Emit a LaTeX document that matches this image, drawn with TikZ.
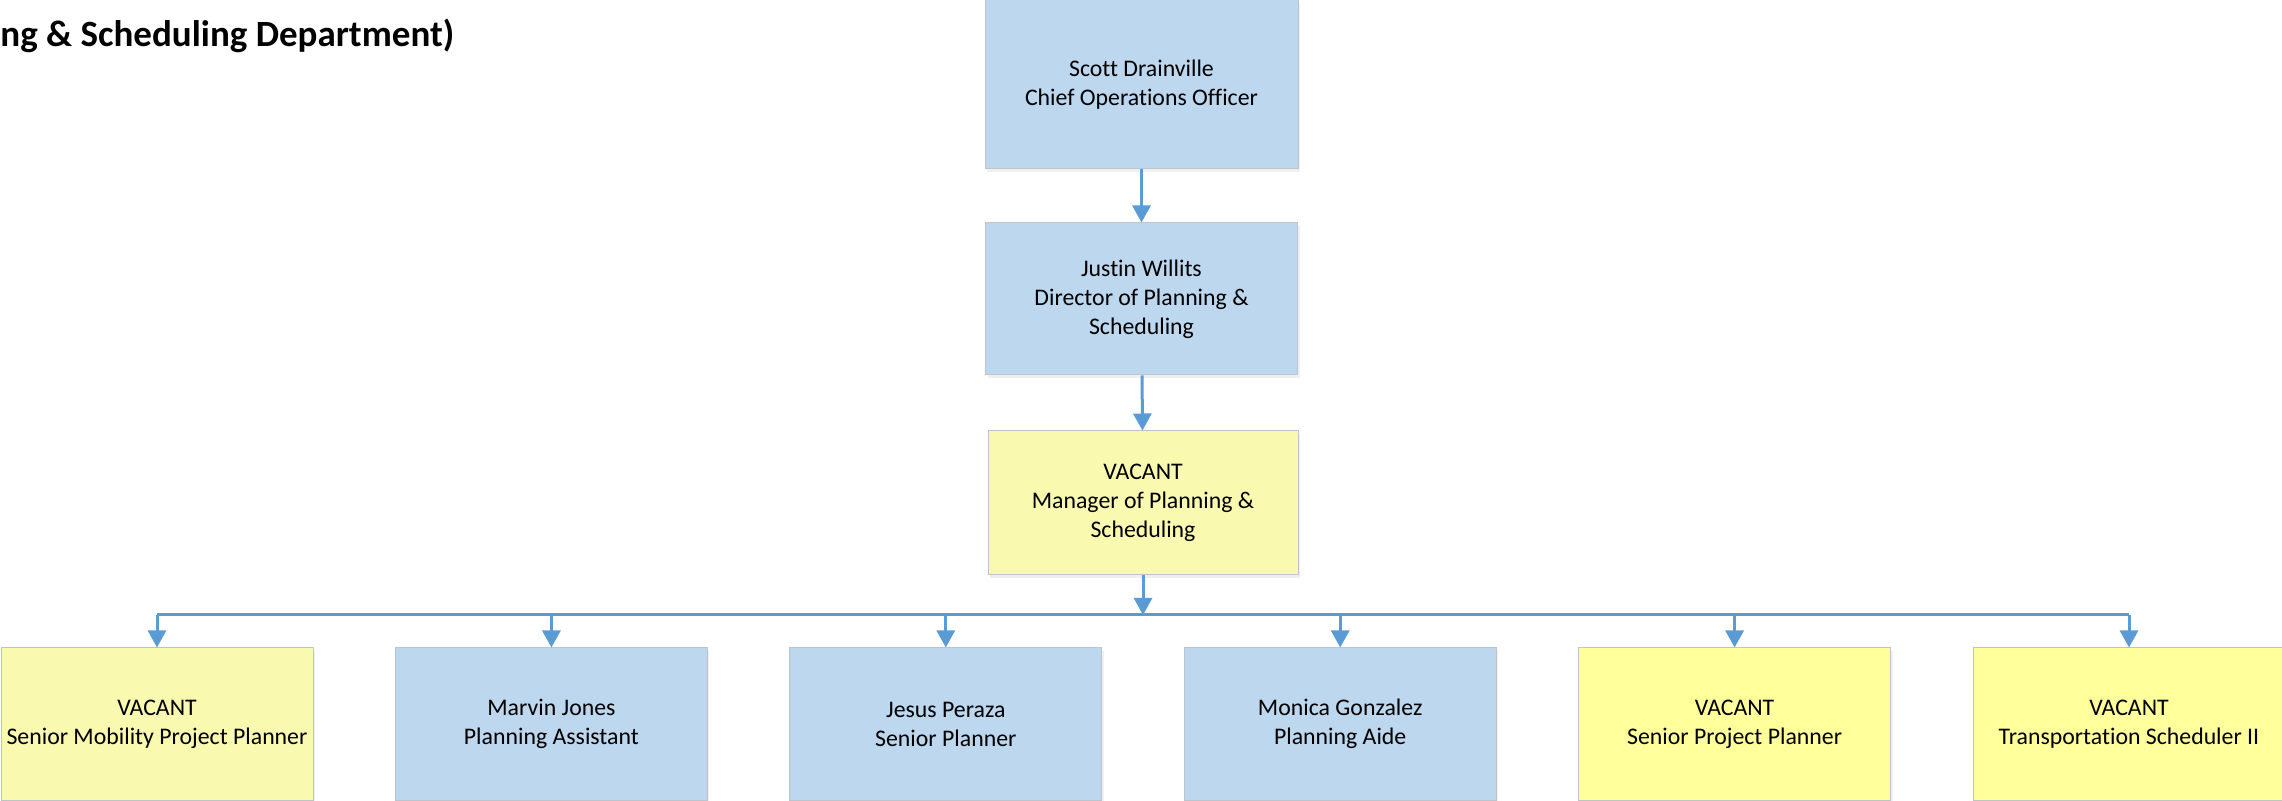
\documentclass[tikz,border=0pt]{standalone}
\usepackage{fontspec}
\setmainfont{Carlito}[Ligatures=CommonOff]
\usetikzlibrary{arrows.meta,shadows,positioning}
\definecolor{boxblue}{HTML}{BDD7EE}
\definecolor{paleyellow}{HTML}{F9F9B0}
\definecolor{brightyellow}{HTML}{FFFF9C}
\definecolor{linkblue}{HTML}{5B9BD5}
\definecolor{boxline}{HTML}{BCC4CC}

\begin{document}
\begin{tikzpicture}[x=0.5pt,y=-0.5pt,>={Triangle[width=9pt,length=8.5pt]},
                    link/.style={->,draw=linkblue,fill=linkblue,line width=1.5pt},
                    bus line/.style={draw=linkblue,line width=1.5pt},
                    org box/.style={rectangle,draw=boxline,line width=0.5pt,inner sep=0pt,align=center,
                        minimum width=156pt,minimum height=76pt,font=\fontsize{11.9}{14.5}\selectfont,
                        drop shadow={opacity=0.12,shadow xshift=1pt,shadow yshift=-1.5pt}},
                    staff box/.style={org box,fill=boxblue},
                    vacant box/.style={org box,fill=paleyellow},
                    open box/.style={org box,fill=brightyellow},
                    node distance=197.2pt]
    \useasboundingbox (0,0) rectangle (2282,801);

    \node[anchor=base west,inner sep=0pt,font=\fontsize{18.5}{22}\selectfont\bfseries] (title) at (0,47)
        {ng \& Scheduling Department)};

    \node[staff box,minimum width=156.5pt,minimum height=84.5pt] (coo) at (1141.5,84.5)
        {Scott Drainville\\Chief Operations Officer};
    \node[staff box,minimum height=76pt] (dir) at (1141.5,299)
        {Justin Willits\\Director of Planning \&\\Scheduling};
    \node[vacant box,minimum width=155pt,minimum height=72pt] (mgr) at (1143,503)
        {VACANT\\Manager of Planning \&\\Scheduling};

    \node[vacant box] (b1) at (157,724) {VACANT\\Senior Mobility Project Planner};
    \node[staff box] (b2) [right of=b1] {Marvin Jones\\Planning Assistant};
    \node[staff box] (b3) [right of=b2] {Jesus Peraza\\Senior Planner};
    \node[staff box] (b4) [right of=b3] {Monica Gonzalez\\Planning Aide};
    \node[open box] (b5) [right of=b4] {VACANT\\Senior Project Planner};
    \node[open box] (b6) [right of=b5] {VACANT\\Transportation Scheduler II};

    \path[link]
        (coo) edge (dir)
        (dir) edge (mgr);

    \coordinate (bus) at (1143,615);
    \draw[link] (mgr) -- (bus);
    \draw[bus line] (b1.north |- bus) -- (b6.north |- bus);
    \foreach \n in {1,...,6}
        \draw[link] (b\n.north |- bus) -- (b\n);
\end{tikzpicture}
\end{document}
